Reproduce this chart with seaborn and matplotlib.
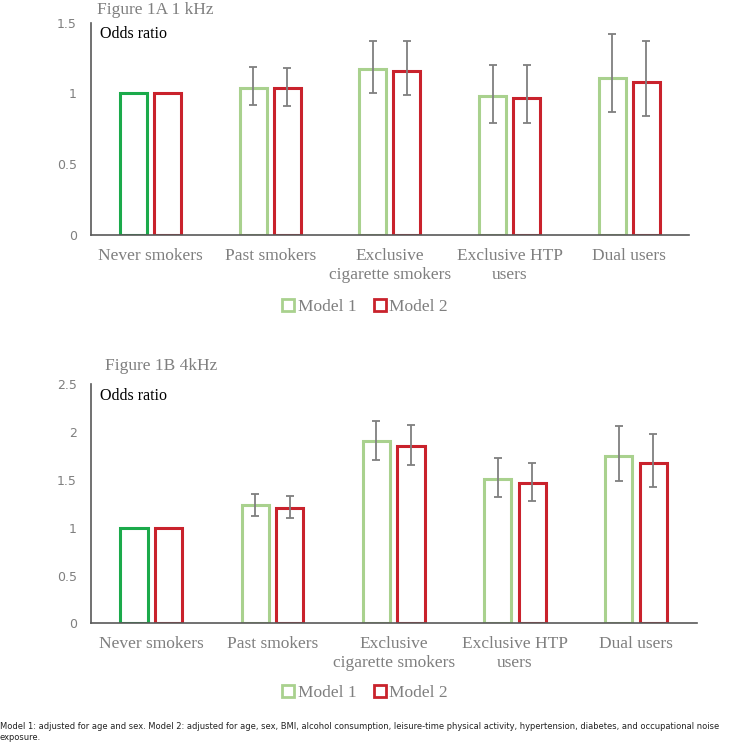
import numpy as np
import pandas as pd
import matplotlib
matplotlib.use("Agg")
import matplotlib.pyplot as plt
from matplotlib.patches import Patch
import seaborn as sns

# data
groups = ["Never smokers", "Past smokers", "Exclusive\ncigarette smokers",
          "Exclusive HTP\nusers", "Dual users"]
models = ["Model 1", "Model 2"]

# Figure 1A, 1 kHz
or_1k_m1 = [1.00, 1.04, 1.17, 0.98, 1.11]
lo_1k_m1 = [1.00, 0.92, 1.00, 0.79, 0.87]
hi_1k_m1 = [1.00, 1.19, 1.37, 1.20, 1.42]
or_1k_m2 = [1.00, 1.04, 1.16, 0.97, 1.08]
lo_1k_m2 = [1.00, 0.91, 0.99, 0.79, 0.84]
hi_1k_m2 = [1.00, 1.18, 1.37, 1.20, 1.37]

# Figure 1B, 4 kHz
or_4k_m1 = [1.00, 1.24, 1.91, 1.51, 1.75]
lo_4k_m1 = [1.00, 1.12, 1.71, 1.32, 1.49]
hi_4k_m1 = [1.00, 1.35, 2.12, 1.73, 2.06]
or_4k_m2 = [1.00, 1.21, 1.85, 1.47, 1.68]
lo_4k_m2 = [1.00, 1.10, 1.66, 1.28, 1.43]
hi_4k_m2 = [1.00, 1.33, 2.07, 1.68, 1.98]

yticks_1k = [0, 0.5, 1, 1.5]
yticks_4k = [0, 0.5, 1, 1.5, 2, 2.5]

green_ref = "#1BAA4B"
green = "#A9D18E"
red = "#C9222C"
grey = "#7F7F7F"
axis_col = "#595959"

sns.set_theme(style="white")
serif = ["Liberation Serif", "DejaVu Serif"]
plt.rcParams["font.family"] = ["DejaVu Sans"]


def panel(ax, m1, lo1, hi1, m2, lo2, hi2, yticks, ymax, title, tx, ty):
    df = pd.DataFrame({
        "group": groups * 2,
        "model": [models[0]] * 5 + [models[1]] * 5,
        "OR": m1 + m2,
    })
    sns.barplot(data=df, x="group", y="OR", hue="model", order=groups,
                hue_order=models, palette=[green, red], fill=False,
                width=0.57, gap=0.21, errorbar=None, linewidth=2.2,
                legend=False, ax=ax)
    los = [lo1, lo2]
    his = [hi1, hi2]
    bars = list(ax.containers)[:2]
    for k, cont in enumerate(bars):
        for i, bar in enumerate(cont):
            if k == 0 and i == 0:
                bar.set_edgecolor(green_ref)
            if i == 0:
                continue
            x = bar.get_x() + bar.get_width() / 2
            y = bar.get_height()
            ax.errorbar([x], [y], yerr=[[y - los[k][i]], [his[k][i] - y]],
                        fmt="none", ecolor=grey, elinewidth=1.3,
                        capsize=2.6, capthick=1.3)
    ax.set_ylim(0, ymax)
    ax.set_xlim(-0.5, 4.5)
    ax.set_yticks(yticks)
    ax.set_yticklabels([f"{t:g}" for t in yticks], color=grey, fontsize=9)
    ax.set_xticks(range(5))
    ax.set_xticklabels(groups, fontsize=12.5, color=grey, family=serif,
                       linespacing=1.3)
    ax.tick_params(axis="x", length=0, pad=9)
    ax.tick_params(axis="y", length=0, pad=10)
    ax.set_xlabel("")
    ax.set_ylabel("")
    for s in ["top", "right"]:
        ax.spines[s].set_visible(False)
    for s in ["left", "bottom"]:
        ax.spines[s].set_color(axis_col)
        ax.spines[s].set_linewidth(1.2)
    ax.text(0.015, 0.985, "Odds ratio", transform=ax.transAxes, ha="left",
            va="top", fontsize=11.5, family=serif, color="black")
    ax.text(tx, ty, title, transform=ax.transAxes, ha="left",
            va="bottom", fontsize=12.5, family=serif, color=grey)


fig = plt.figure(figsize=(7.30, 7.44), dpi=100)
ax1 = fig.add_axes([0.1242, 0.684, 0.8198, 0.2855])
ax2 = fig.add_axes([0.1242, 0.1622, 0.8302, 0.3213])

panel(ax1, or_1k_m1, lo_1k_m1, hi_1k_m1, or_1k_m2, lo_1k_m2, hi_1k_m2,
      yticks_1k, 1.5, "Figure 1A 1 kHz", 0.01, 1.02)
panel(ax2, or_4k_m1, lo_4k_m1, hi_4k_m1, or_4k_m2, lo_4k_m2, hi_4k_m2,
      yticks_4k, 2.5, "Figure 1B 4kHz", 0.024, 1.045)

handles = [Patch(facecolor="white", edgecolor=green, linewidth=2),
           Patch(facecolor="white", edgecolor=red, linewidth=2)]
for yy in [0.587, 0.068]:
    fig.legend(handles, models, loc="center", bbox_to_anchor=(0.5, yy),
               ncol=2, frameon=False, handlelength=0.7, handleheight=0.7,
               handletextpad=0.2, columnspacing=1.0,
               prop={"family": serif, "size": 12.5}, labelcolor=grey)

note = ("Model 1: adjusted for age and sex. Model 2: adjusted for age, sex, BMI, "
        "alcohol consumption, leisure-time physical activity, hypertension, "
        "diabetes, and occupational noise\nexposure.")
fig.text(0.0, 0.029, note, ha="left", va="top", fontsize=6.7,
         family="DejaVu Sans", fontstretch="condensed", color="#222222",
         linespacing=1.25)

fig.savefig("out.png", dpi=100)
